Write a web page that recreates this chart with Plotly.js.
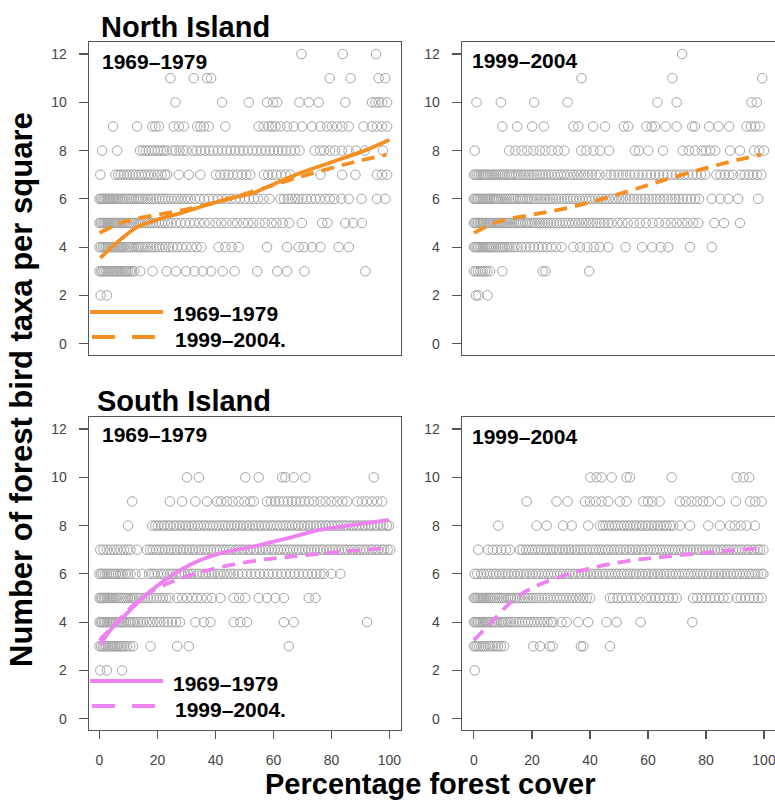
<!DOCTYPE html>
<html><head><meta charset="utf-8">
<script src="https://cdn.plot.ly/plotly-3.0.1.min.js"></script>
<style>html,body{margin:0;padding:0;background:#fff}#chart{width:775px;height:803px}</style>
</head><body><div id="chart"></div>
<script>
// Y levels (number of forest bird taxa), rows below are x-values (percentage forest cover) per level
const levels = [2,3,4,5,6,7,8,9,10,11,12];

// North Island, 1969–1979
const ni6979 = [
 [0.4,2.6],
 [0,0.6,1.1,1.7,2.3,2.9,3.4,4.0,4.6,5.1,5.7,6.3,6.9,7.4,8.0,8.6,9.2,9.8,10.5,11.2,12.0,14.1,18.3,23.2,26.4,29.9,32.8,35.6,38.5,42.5,46.6,54.4,61.3,64.7,70.7,91.7],
 [0,0.6,1.2,1.8,2.4,3.0,3.6,4.2,4.8,5.4,6.0,6.6,7.2,7.8,8.4,9.0,9.7,10.4,11.1,11.8,12.6,13.4,14.2,15.0,15.9,16.8,17.7,18.6,19.6,20.6,21.7,22.8,24.0,25.3,26.8,28.4,30.0,31.8,33.5,35.2,41.1,43.4,45.6,48.0,57.8,64.7,68.7,70.5,73.3,76.2,82.5,86.0],
 [0,0.5,1,1.5,2,2.5,3,3.5,4,4.5,5,5.5,6,6.6,7.2,7.8,8.4,9,9.7,10.4,11.1,11.8,12.5,13.3,14.1,14.9,15.8,16.7,17.6,18.5,19.5,20.5,21.5,22.6,23.7,24.8,26.5,28,29.6,31.2,32.7,34.4,36.2,38.0,40.1,42.0,43.8,45.9,47.5,49.6,51.3,53.0,55.2,57.1,59.4,61.0,63.2,65.5,69.8,76.8,78.6,84.8,87.5,90.5],
 [0,0.5,1,1.5,2,2.5,3,3.5,4,4.6,5.2,5.8,6.4,7,7.6,8.2,8.9,9.6,10.3,11,11.8,12.6,13.4,14.2,15,15.9,16.8,17.7,18.6,19.6,20.6,21.6,22.6,23.7,24.8,25.9,27,28.2,29.4,30.5,31.5,33,34.6,36.1,37.7,39.2,40.8,42.3,43.9,45.4,47.0,48.5,50.1,51.6,53.2,54.7,56.5,58.6,62.4,63.6,65,66.3,67.5,68.6,70,71.4,73,74.5,76,77.8,79.4,81,83.4,86,90.4,95.7,98.6],
 [0.3,5.5,6.5,7.4,8.4,9.5,10.4,11.5,12.4,13.6,14.6,15.7,16.8,17.8,19,20.2,21.4,22.6,23.3,27.4,30.8,34.8,40.2,41.7,43.2,44.5,46,47.6,49.2,50.6,52,56.7,58.2,59.6,61,62.6,64.2,65.9,76.2,83.7,88.3,95.7,97.4,99.2],
 [0.9,6.1,14.0,15.0,16.0,17.0,18.1,19.1,20.2,21.2,22.2,23.2,25.1,26.3,27.6,28.8,30.0,32.1,33.5,35.0,36.4,37.9,39.3,40.8,42.3,43.9,45.3,46.8,48.3,49.6,51.2,52.8,54.3,55.8,57.3,58.8,60.1,61.6,63.0,64.4,66.0,67.4,69.0,74.2,76.1,77.5,79.5,81.3,83.6,85.9,88.5,91.5,97.8],
 [4.7,13.0,18.2,19.3,20.5,25.6,27.4,29.1,33.7,34.8,36.0,37.7,43.4,54.9,56.7,58.4,59.5,60.7,62.4,64.7,67.0,69.9,73.3,76.2,78.5,80.2,82.0,83.7,86.0,91.1,94.0,95.7,97.4,99.2],
 [26.2,42.3,51.5,57.8,59.9,61.3,69.0,72.2,75.6,84.8,94.0,95.2,96.3,97.5,99.2],
 [24.5,32.5,37.1,38.5,79.4,86.6,96.3,98.6],
 [69.7,83.9,95.4]
];

// North Island, 1999–2004
const ni9904 = [
 [0.7,1.5,4.7],
 [0,0.7,1.4,2.2,3.0,3.8,4.6,5.6,9.8,23.7,24.7,39.7],
 [0,0.5,1,1.5,2,2.6,3.2,3.8,4.4,5,5.6,6.3,7,7.7,8.4,9.1,9.8,10.6,11.4,12.2,13.1,14,15,16.4,17.9,19.3,20.6,22.3,23.6,25.2,26.7,28.3,30.2,34.3,36.6,39.1,41.4,43.4,46.3,52.3,58.0,61.5,64.4,67.0,74.5,82.0],
 [0,0.5,1,1.5,2,2.5,3,3.6,4.2,4.8,5.4,6,6.6,7.2,7.8,8.4,9,9.6,10.3,11,11.7,12.4,13.1,13.8,14.5,15.3,16.1,16.9,17.7,18.5,19.3,20.1,21,21.9,22.8,23.7,24.6,25.5,26.5,27.5,28.5,29.5,30.6,31.7,32.8,33.9,35,36.2,37.4,38.6,39.8,41,42.3,43.6,44.9,46.2,47.5,49.5,51.2,53,55.1,57.2,59.3,61.6,63.8,66,68,69.9,71.8,73.6,75.6,77.4,82.9,86.2,91.7],
 [0,0.5,1,1.5,2,2.6,3.2,3.8,4.4,5,5.6,6.2,6.8,7.4,8,8.7,9.4,10.1,10.8,11.5,12.2,12.9,13.6,14.4,15.2,16,16.8,17.6,18.4,19.2,20,20.9,21.8,22.7,23.6,24.5,25.4,26.3,27.2,28.2,29.2,30.2,31.2,32.2,33.2,34.2,35.3,36.4,37.5,38.6,39.7,40.8,41.9,43,44.1,45.3,46.5,47.7,48.9,50.1,51.3,52.5,53.8,55.1,56.4,57.7,59,60.3,61.6,62.9,64.2,65.5,66.8,68.1,69.4,70.7,72,73.4,74.8,76.2,77.6,82,85,87.7,91.1,98],
 [0,0.6,1.2,1.8,2.4,3,3.6,4.2,4.9,5.6,6.3,7,7.7,8.4,9.1,9.8,10.6,11.4,12.2,13,13.8,14.6,15.4,16.3,17.2,18.1,19,19.9,20.8,21.7,22.7,23.7,24.7,25.7,26.7,27.8,28.9,30,31.1,32.2,33.3,34.5,35.7,36.9,38.1,39.4,40.7,42,43.3,45.7,47.2,48.4,49.9,51.3,52.5,53.9,55.4,56.8,58.1,59.6,61,62.5,63.8,65.3,66.7,68.2,69.6,71,72.5,73.9,75.4,76.8,78.3,79.7,83.6,85,86.5,87.9,89.3,91.9,93.3,94.8,96.2,97.6,99.1],
 [0.3,12.2,14.3,16.5,18.4,20.5,22.7,24.6,26.8,29,31.2,37,38.8,41.2,43.5,46.6,55.5,56.9,60.1,65.2,72,74.1,76.2,78.6,80,81.4,83.2,88.3,91.7,96.6,98.4,100],
 [9.8,14.9,20.1,24.1,34.3,36,41.1,45.2,51.7,53.2,59.5,61.3,62.4,66.1,69.9,75.3,76.2,81.1,84.3,88,94,95.5,97,98.5],
 [0.9,9.3,20.8,32.3,63.3,69.9,95.7,97.5],
 [37.1,68.4,99.4],
 [71.8]
];

// South Island, 1969–1979
const si6979 = [
 [0.3,2.6,7.8],
 [0,0.6,1.2,1.8,2.4,3.0,3.6,4.2,4.8,5.4,6.0,6.6,7.2,7.9,8.6,9.5,10.6,11.6,17.6,26.8,30.8,65.3],
 [0,0.5,1,1.5,2,2.6,3.2,3.8,4.4,5,5.6,6.3,7,7.7,8.4,9.1,9.9,10.7,11.5,12.3,13.2,14.1,15,16.3,17.5,18.6,19.9,21,22.3,23.6,25,26.4,27.8,33.1,36,38.3,46.3,48.6,50.9,63.6,67,92.3],
 [0,0.5,1,1.5,2,2.6,3.2,3.8,4.4,5,5.6,6.2,6.9,7.6,8.3,9,9.7,10.5,11.3,12.1,13,13.9,14.8,15.7,16.7,17.7,18.7,19.7,20.8,21.9,23,24.2,26.8,28.5,30.2,32,33.6,35.2,37,38.8,41.7,46.3,48.2,50.3,54.9,57.8,60.7,63.6,72.2,74.5],
 [0,0.6,1.2,1.9,2.6,3.3,4,4.8,5.6,6.4,7.2,8,8.9,9.8,10.7,12.4,14.7,17.1,18.2,19,20.1,21.3,22.2,23.4,24.3,25.2,26.4,27.5,28.3,29.4,30.6,31.5,32.4,33.6,34.5,35.7,36.6,37.8,38.7,39.6,40.8,41.7,42.9,44.1,45.2,46.3,47.8,49.3,50.8,52.3,53.8,55.3,56.8,58.3,59.8,61.3,62.8,64.3,65.8,67.3,68.8,70.3,71.8,73.3,74.8,76.2,77.4,80,83.1],
 [0.3,1.4,2.6,3.8,5,6.1,7.3,8.5,9.6,10.7,13,16.4,17.5,18.4,19.6,20.5,21.7,22.6,23.8,24.7,25.9,26.8,28,28.9,30.1,31,32.2,33.1,34.3,35.2,36.4,37.3,38.5,39.4,40.6,41.5,42.7,43.6,44.8,45.7,46.9,47.8,49,49.9,51.1,52,53.2,54.1,55.3,56.2,57.4,58.3,59.5,60.4,61.6,62.5,63.7,64.6,65.8,66.7,67.9,68.8,70,70.9,72.1,73,74.2,75.1,76.3,77.2,78.4,79.3,80.5,81.4,82.6,83.5,84.7,85.6,86.8,87.7,88.9,89.8,91,91.9,93.1,94,95.2,96.1,97.3,98.2,99.4,100.3],
 [9.9,18.2,19.3,20.2,21.4,22.3,23.5,24.4,25.6,26.5,27.7,28.6,29.8,30.7,31.9,32.8,34,34.9,36.1,37,38.2,39.1,40.3,41.2,42.4,43.3,44.5,45.4,46.6,47.5,48.7,49.6,50.8,51.7,52.9,53.8,55,55.9,57.1,58,59.2,60.1,61.3,62.2,63.4,64.3,65.5,66.4,67.6,68.5,69.7,70.6,71.8,72.7,73.9,74.8,76,76.9,78.1,79,80.2,81.1,82.3,83.2,84.4,85.3,86.5,87.4,88.6,89.5,90.7,91.6,92.8,93.7,94.9,95.8,97,97.9,99.1,99.8],
 [11.3,24.3,28.5,33.1,37.1,40.6,42,44,46,48,50,52,53.2,57.8,59.2,60.6,62,63.5,65,66.4,67.8,69.3,70.7,72.2,74,76.2,78,80,82,83.8,85.4,88.9,90.6,92.2,94,95.8,97.5],
 [30.2,34.3,50.3,54.9,63,64.1,67,71,94.6],
 [],
 []
];

// South Island, 1999–2004
const si9904 = [
 [0.3],
 [0,0.6,1.2,1.9,2.6,3.3,4,4.8,5.6,6.5,7.4,8.3,9.3,10.4,20.5,22.8,26.2,27.1,36.9,37.7,46.9],
 [0,0.5,1,1.5,2,2.6,3.2,3.8,4.4,5,5.7,6.4,7.1,7.8,8.6,9.4,10.2,11,11.9,12.8,13.7,14.6,15.6,16.6,17.6,18.6,19.7,20.8,21.9,23,24.2,25.4,26.6,27.4,30.2,32,36,39.4,45.7,49.2,57.5,75.3],
 [0,0.5,1,1.5,2,2.5,3,3.6,4.2,4.8,5.4,6,6.7,7.4,8.1,8.8,9.5,10.2,11,11.8,12.6,13.4,14.2,15,15.9,16.8,17.7,18.6,19.5,20.4,21.4,22.4,23.4,24.4,25.4,26.4,27.5,28.6,29.7,30.8,31.9,33,34.1,35.3,36.5,37.7,38.9,40.1,46.9,48,49.5,51,52.6,54.2,55.8,57.2,59.5,61,62.5,64,65.5,67.2,68.6,69.9,75.6,77,78.5,80,81.5,83,84.5,86,87.7,90.6,92,93.5,95,96.5,98,99.2],
 [0.3,1.2,2.5,3.4,4.6,5.5,6.7,7.6,8.8,9.7,10.9,11.8,13,13.9,15.1,16,17.2,18.1,19.3,20.2,21.4,22.3,23.5,24.4,25.6,26.5,27.7,28.6,29.8,30.7,31.9,32.8,34,34.9,36.1,37,38.2,39.1,40.3,41.2,42.4,43.3,44.5,45.4,46.6,47.5,48.7,49.6,50.8,51.7,52.9,53.8,55,55.9,57.1,58,59.2,60.1,61.3,62.2,63.4,64.3,65.5,66.4,67.6,68.5,69.7,70.6,71.8,72.7,73.9,74.8,76,76.9,78.1,79,80.2,81.1,82.3,83.2,84.4,85.3,86.5,87.4,88.6,89.5,90.7,91.6,92.8,93.7,94.9,95.8,97,97.9,99.1,99.8],
 [1.5,4.9,6.5,8,9.5,11,12.4,15.9,16.8,18,18.9,20.1,21,22.2,23.1,24.3,25.2,26.4,27.3,28.5,29.4,30.6,31.5,32.7,33.6,34.8,35.7,36.9,37.8,39,39.9,41.1,42,43.2,44.1,45.3,46.2,47.4,48.3,49.5,50.4,51.6,52.5,53.7,54.6,55.8,56.7,57.9,58.8,60,60.9,62.1,63,64.2,65.1,66.3,67.2,68.4,69.3,70.5,71.4,72.6,73.5,74.7,75.6,76.8,77.7,78.9,79.8,81,81.9,83.1,84,85.2,86.1,87.3,88.2,89.4,90.3,91.5,92.4,93.6,94.5,95.7,96.6,97.8,98.7,99.8],
 [8.4,21.6,25.1,30.8,33.7,39.4,43.4,44.5,45.4,46.6,47.5,48.7,49.6,50.8,51.7,52.9,53.8,55,55.9,57.1,58,59.2,60.1,61.3,62.2,63.4,64.3,65.5,66.4,67.6,68.7,71,74.5,80.8,84.8,88.3,90,92,94,96.9],
 [18.2,28.5,32.3,38.3,40,42,44,46.3,50.3,52.6,58.4,60,61.5,64,71,73,75,77,79,81,84.8,90.3,95.2,97,99.2],
 [40.2,42.3,44,47.5,52.6,53.8,68.2,90.6,92.9,94.9],
 [],
 []
];

// Fitted curves
const niFit6979X = [0.3,7.2,13,20,28,39.4,46.3,53,61,69.3,80.8,92.3,100];
const niFit6979Y = [3.55,4.31,4.83,5.14,5.41,5.83,6.05,6.24,6.66,7.07,7.55,8.04,8.45];
const niFit9904X = [0,9,20.5,32,43.4,55,66,78,89,99];
const niFit9904Y = [4.59,5.07,5.35,5.62,5.97,6.38,6.8,7.21,7.56,7.83];
const siFit6979X = [0.3,3.8,9.5,15.3,21,28,34.8,44,53,64.7,76,87.7,99.8];
const siFit6979Y = [3.05,3.67,4.36,5.05,5.6,6.16,6.57,6.92,7.13,7.47,7.82,8.03,8.24];
const siFit9904X = [0,5,12.4,18.7,29.7,40,55,66,83.7,99];
const siFit9904Y = [3.25,3.87,4.78,5.33,5.88,6.23,6.57,6.71,6.92,7.06];

const yTicks = [0,2,4,6,8,10,12];
const xTicks = [0,20,40,60,80,100];
const periodLabels = ['1969\u20131979','1999\u20132004'];
const legendLabels = ['1969\u20131979','1999\u20132004.'];

const ORANGE = '#F39021', VIOLET = '#EE82EE', GREY = '#a4a4a4';
const W = 775, H = 803;
const px = v => v / W, py = v => 1 - v / H;

function toXY(rows){
  const x = [], y = [];
  rows.forEach((r,i) => r.forEach(v => { x.push(v); y.push(levels[i]); }));
  return {x, y};
}
function pts(rows, xa, ya){
  const d = toXY(rows);
  return {type:'scatter', mode:'markers', x:d.x, y:d.y, xaxis:xa, yaxis:ya,
    marker:{symbol:'circle-open', size:9.5, color:GREY, line:{width:1, color:GREY}}, hoverinfo:'skip'};
}
function fit(x, y, xa, ya, color, dash){
  return {type:'scatter', mode:'lines', x:x, y:y, xaxis:xa, yaxis:ya,
    line:{color:color, width:3.8, shape:'spline', smoothing:1, dash:dash}, hoverinfo:'skip'};
}
const DASH = '13px,8px';
const data = [
  pts(ni6979,'x','y'), pts(ni9904,'x2','y2'), pts(si6979,'x3','y3'), pts(si9904,'x4','y4'),
  fit(niFit6979X, niFit6979Y, 'x','y', ORANGE, 'solid'),
  fit(niFit9904X, niFit9904Y, 'x','y', ORANGE, DASH),
  fit(niFit9904X, niFit9904Y, 'x2','y2', ORANGE, DASH),
  fit(siFit6979X, siFit6979Y, 'x3','y3', VIOLET, 'solid'),
  fit(siFit9904X, siFit9904Y, 'x3','y3', VIOLET, DASH),
  fit(siFit9904X, siFit9904Y, 'x4','y4', VIOLET, DASH)
];

const FONT = 'Liberation Sans, Arial, sans-serif';
const tickFont = {family:FONT, size:14, color:'#444'};
function xAx(domain, anchor, range, showLabels){
  return {domain:domain, anchor:anchor, range:range, showgrid:false, zeroline:false,
    showline:true, mirror:true, linecolor:'#555', linewidth:1.3,
    ticks: showLabels ? 'outside' : '', ticklen:8, tickcolor:'#555', tickwidth:1.2,
    showticklabels:showLabels, tickvals:xTicks, tickfont:tickFont, ticklabelstandoff:9,
    ticklabeloverflow:'allow'};
}
function yAx(domain, anchor, mirror){
  return {domain:domain, anchor:anchor, range:[-0.47,12.5], showgrid:false, zeroline:false,
    showline:true, mirror:mirror, linecolor:'#555', linewidth:1.3,
    ticks:'outside', ticklen:9, tickcolor:'#555', tickwidth:1.2,
    tickvals:yTicks, tickfont:tickFont, ticklabelstandoff:9};
}
const dL = [px(89), px(401)], dR = [px(462), 1];
const dT = [py(355), py(42)], dB = [py(730), py(417)];

const ann = [];
function txt(text, x, y, size, extra){
  ann.push(Object.assign({text:text, xref:'paper', yref:'paper', x:px(x), y:py(y),
    xanchor:'left', yanchor:'middle', showarrow:false, borderpad:0,
    font:{family:FONT, size:size, color:'#000', weight:'bold'}}, extra||{}));
}
txt('<b>North Island</b>', 100, 27, 29);
txt('<b>South Island</b>', 96, 401, 29);
txt('<b>'+periodLabels[0]+'</b>', 101, 62, 21);
txt('<b>'+periodLabels[1]+'</b>', 471, 61, 21);
txt('<b>'+periodLabels[0]+'</b>', 101, 435, 21);
txt('<b>'+periodLabels[1]+'</b>', 471, 437, 21);
txt('<b>'+legendLabels[0]+'</b>', 172, 313, 21);
txt('<b>'+legendLabels[1]+'</b>', 174, 339, 21);
txt('<b>'+legendLabels[0]+'</b>', 172, 683, 21);
txt('<b>'+legendLabels[1]+'</b>', 174, 709, 21);
txt('<b>Percentage forest cover</b>', 430, 784, 29, {xanchor:'center'});
txt('<b>Number of forest bird taxa per square</b>', 22, 390, 31, {xanchor:'center', textangle:-90});

const shapes = [];
function legLine(x0, x1, y, color, dash){
  shapes.push({type:'line', xref:'paper', yref:'paper', x0:px(x0), x1:px(x1), y0:py(y), y1:py(y),
    line:{color:color, width:3.8, dash:dash}});
}
legLine(90, 163, 312, ORANGE, 'solid');
legLine(92, 155, 337, ORANGE, '23px,17px');
legLine(90, 163, 681, VIOLET, 'solid');
legLine(92, 155, 706, VIOLET, '23px,17px');

const layout = {
  width:W, height:H, margin:{l:0, r:0, t:0, b:0}, showlegend:false,
  paper_bgcolor:'#fff', plot_bgcolor:'#fff', font:{family:FONT},
  xaxis: xAx(dL, 'y', [-3.6,104], false),
  xaxis2: xAx(dR, 'y2', [-4.1,103.8], false),
  xaxis3: xAx(dL, 'y3', [-3.6,104], true),
  xaxis4: xAx(dR, 'y4', [-4.1,103.8], true),
  yaxis: yAx(dT, 'x', true),
  yaxis2: yAx(dT, 'x2', false),
  yaxis3: yAx(dB, 'x3', true),
  yaxis4: yAx(dB, 'x4', false),
  annotations: ann, shapes: shapes
};
Plotly.newPlot('chart', data, layout, {staticPlot:true, displayModeBar:false});
</script></body></html>
